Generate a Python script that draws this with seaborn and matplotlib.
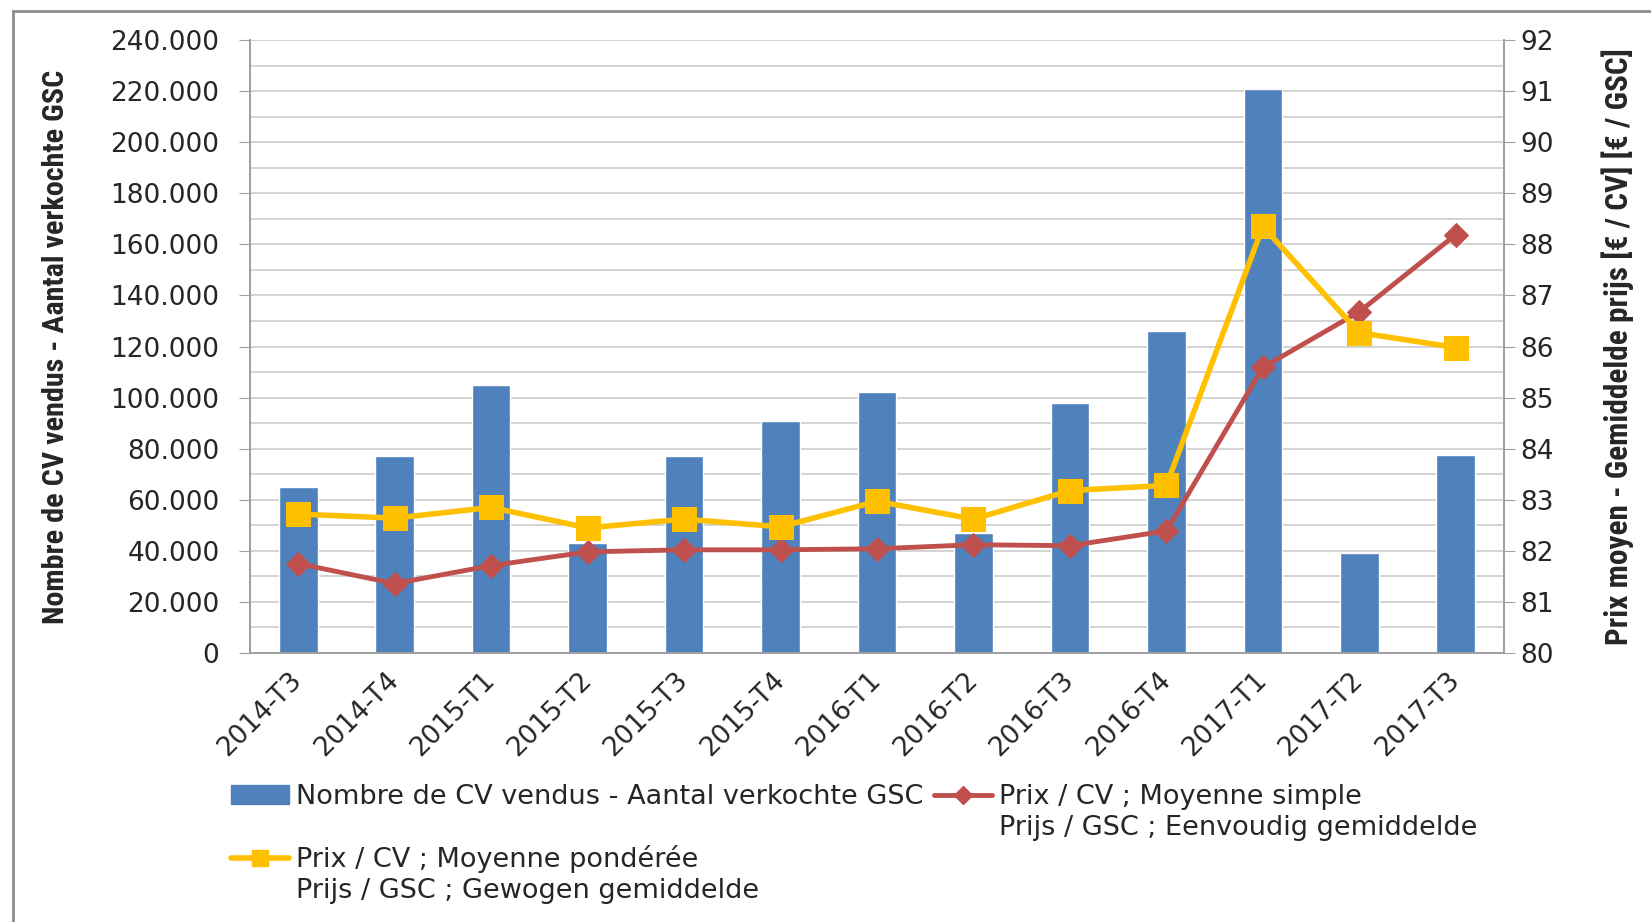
import numpy as np
import pandas as pd
import seaborn as sns
import matplotlib.pyplot as plt
from matplotlib import font_manager
from matplotlib.lines import Line2D
from matplotlib.patches import Patch, Rectangle
from matplotlib.ticker import FuncFormatter, MultipleLocator

quarters = ["2014-T3", "2014-T4", "2015-T1", "2015-T2", "2015-T3", "2015-T4", "2016-T1",
            "2016-T2", "2016-T3", "2016-T4", "2017-T1", "2017-T2", "2017-T3"]
sold = [65000, 77000, 105000, 43000, 77000, 91000, 102000, 47000, 98000, 126000, 221000, 39000, 77500]
price_simple = [81.75, 81.36, 81.71, 81.98, 82.02, 82.02, 82.04, 82.12, 82.10, 82.39, 85.59, 86.68, 88.19]
price_weighted = [82.72, 82.64, 82.85, 82.45, 82.62, 82.47, 82.97, 82.62, 83.18, 83.28, 88.35, 86.27, 85.98]

bar_label = "Nombre de CV vendus - Aantal verkochte GSC"
simple_label = ["Prix / CV ; Moyenne simple", "Prijs / GSC ; Eenvoudig gemiddelde"]
weighted_label = ["Prix / CV ; Moyenne pondérée", "Prijs / GSC ; Gewogen gemiddelde"]
left_title = "Nombre de CV vendus - Aantal verkochte GSC"
right_title = "Prix moyen - Gemiddelde prijs [€ / CV] [€ / GSC]"

BLUE, RED, GOLD = "#4F81BD", "#C0504D", "#FFC000"
GRID = "#D0D0D0"

df = pd.DataFrame({"q": quarters, "sold": sold, "pos": np.arange(len(quarters)),
                   "simple": price_simple, "weighted": price_weighted})

# narrow bold font for the axis titles, if one is there
names = {f.name for f in font_manager.fontManager.ttflist}
narrow = [n for n in ["Roboto Condensed", "Liberation Sans Narrow", "Open Sans Condensed"] if n in names]
title_font = (narrow or ["Roboto"]) + ["DejaVu Sans"]
title_size = 21.7 if narrow else 17.5

sns.set_style("white")
plt.rcParams["font.family"] = ["DejaVu Sans"]

fig = plt.figure(figsize=(16.51, 9.22), dpi=100)
ax = fig.add_axes([250 / 1651, 1 - 653 / 922, 1254 / 1651, 613 / 922])

sns.barplot(data=df, x="q", y="sold", color=BLUE, width=0.40, saturation=1, ax=ax, zorder=2)
ax.set_xlim(-0.5, len(quarters) - 0.5)
ax.set_ylim(0, 240000)
ax.yaxis.set_major_locator(MultipleLocator(20000))
ax.yaxis.set_minor_locator(MultipleLocator(10000))
ax.yaxis.set_major_formatter(FuncFormatter(lambda v, p: f"{v:,.0f}".replace(",", ".")))
ax.grid(axis="y", which="both", color=GRID, lw=1.3, zorder=0)
ax.set_axisbelow(True)
ax.tick_params(axis="y", which="major", length=8, color="#A0A0A0", labelsize=19, pad=14)
ax.tick_params(axis="y", which="minor", length=0)
ax.set_xticks(np.arange(len(quarters)))
ax.set_xticklabels(quarters, rotation=45, ha="right", va="center", rotation_mode="anchor", fontsize=19)
ax.set_xticks(np.arange(len(quarters) + 1) - 0.5, minor=True)
ax.tick_params(axis="x", which="major", length=0, pad=17)
ax.tick_params(axis="x", which="minor", length=8, color="#A0A0A0")
ax.set_xlabel("")
ax.set_ylabel(left_title, fontsize=title_size, fontweight="bold", family=title_font)
ax.yaxis.set_label_coords(-(250 - 70) / 1254, 0.5)
ax.spines["top"].set_visible(False)
for s in ["left", "bottom", "right"]:
    ax.spines[s].set_color("#A0A0A0")
    ax.spines[s].set_linewidth(1.3)

ax2 = ax.twinx()
sns.lineplot(data=df, x="pos", y="simple", color=RED, lw=3.5, marker="D", markersize=12,
             markeredgecolor=RED, ax=ax2, zorder=3)
sns.lineplot(data=df, x="pos", y="weighted", color=GOLD, lw=4, marker="s", markersize=17,
             markeredgecolor=GOLD, ax=ax2, zorder=4)
ax2.set_ylim(80, 92)
ax2.set_xlim(-0.5, len(quarters) - 0.5)
ax2.yaxis.set_major_locator(MultipleLocator(1))
ax2.tick_params(axis="y", length=8, color="#A0A0A0", labelsize=19, pad=4)
ax2.set_ylabel(right_title, fontsize=22.5 if narrow else 17.5, fontweight="bold", family=title_font)
ax2.yaxis.set_label_coords(1 + (1601 - 1504) / 1254, 0.5)
ax2.set_xlabel("")
ax2.spines["top"].set_visible(False)
for s in ["left", "bottom", "right"]:
    ax2.spines[s].set_color("#A0A0A0")
    ax2.spines[s].set_linewidth(1.3)

# legend rows laid out like the original (two columns, two-line labels)
blank = Line2D([], [], color="none")
h_bar = Patch(facecolor=BLUE, edgecolor=BLUE)
h_red = Line2D([], [], color=RED, lw=3.5, marker="D", markersize=9)
h_gold = Line2D([], [], color=GOLD, lw=4, marker="s", markersize=12)
handles = [h_bar, blank, h_gold, blank, h_red, blank, blank, blank]
labels = [bar_label, " ", weighted_label[0], weighted_label[1],
          simple_label[0], simple_label[1], " ", " "]
fig.legend(handles, labels, ncol=2, loc="upper left", bbox_to_anchor=(231 / 1651, 1 - 784 / 922),
           frameon=False, fontsize=19.5, handlelength=2.15, handletextpad=0.25, columnspacing=0.4,
           labelspacing=0.17, borderpad=0, borderaxespad=0)

fig.add_artist(Rectangle((13 / 1651, -0.05), 1.2, 1 - 11 / 922 + 0.05, transform=fig.transFigure,
                         fill=False, edgecolor="#8C8C8C", lw=2))

fig.savefig("out.png", dpi=100)
